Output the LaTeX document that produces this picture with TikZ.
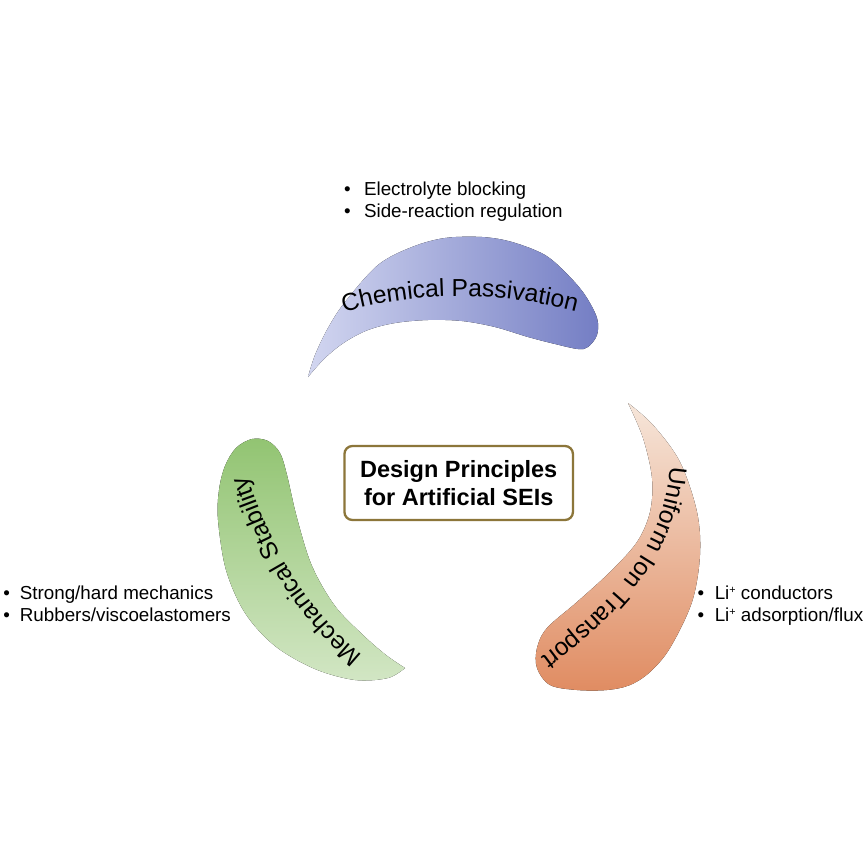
\documentclass[tikz,border=0pt]{standalone}
\usepackage{fontspec}
\setmainfont{Liberation Sans}
\usetikzlibrary{decorations.text}
\definecolor{blueL}{RGB}{210,214,240}
\definecolor{blueR}{RGB}{116,126,196}
\definecolor{orgT}{RGB}{246,230,218}
\definecolor{orgB}{RGB}{224,140,98}
\definecolor{grnT}{RGB}{146,196,114}
\definecolor{grnB}{RGB}{210,230,196}
\definecolor{boxc}{RGB}{140,118,58}
\newcommand\curvefont{\fontsize{6.15}{6.5}\selectfont}
\newcommand\liplus{Li\raisebox{1.5pt}{\fontsize{2.7}{2.7}\selectfont +}}
\tikzset{
  listline/.style={anchor=base west, inner sep=0pt, font=\fontsize{4.7}{5.5}\selectfont},
  curvetext/.style={decorate, decoration={text along path, text align=center, text={|\curvefont|#1}}},
  titlebox/.style={draw=boxc, line width=0.575pt, rounded corners=2pt, fill=white,
    minimum width=57.125pt, minimum height=18.5pt, inner sep=0pt, align=center,
    font=\fontsize{5.875}{6.825}\selectfont\bfseries}
}
\begin{document}
\begin{tikzpicture}[x=0.25pt,y=-0.25pt]
\useasboundingbox (0,0) rectangle (866,866);
\fill[white] (0,0) rectangle (866,866);

% blue crescent
\fill[left color=blueL, right color=blueR]
  plot[smooth, tension=0.55] coordinates {(308,377) (315,355) (328,328) (345,302) (378,265) (412,247) (445,238) (482,237) (512,242) (545,255) (568,275) (585,295) (597,318) (597,335) (588,347) (578,349) (555,344) (528,337) (495,327) (462,321) (428,320) (395,323) (368,330) (345,342) (325,358) (308,377)} -- cycle;

% orange crescent
\fill[top color=orgT, bottom color=orgB]
  plot[smooth, tension=0.55] coordinates {(628,403) (653,425) (680,462) (697,512) (700,555) (692,602) (670,648) (650,672) (630,685) (607,690) (577,690) (550,685) (537,668) (537,648) (547,628) (577,602) (610,572) (637,542) (650,512) (652,478) (643,438) (628,403)} -- cycle;

% green crescent
\fill[top color=grnT, bottom color=grnB]
  plot[smooth, tension=0.55] coordinates {(405,668) (388,678) (355,680) (315,669) (275,646) (245,613) (226,570) (218,520) (219,490) (225,466) (236,448) (252,439) (268,441) (280,453) (287,475) (297,518) (312,566) (335,606) (363,635) (386,655) (405,668)} -- cycle;

% curved labels
\path[curvetext={Chemical Passivation}]
  (338,314) .. controls (415,290.5) and (500,290.5) .. (582,313);
\path[curvetext={Uniform Ion Transport}]
  (671,458) .. controls (668,540) and (620,600) .. (534,662);
\path[curvetext={Mechanical Stability}]
  (374,664) .. controls (318,622) and (272,560) .. (243,462);

% title box
\node[titlebox] (title) at (458.7,483) {Design Principles\\for Artificial SEIs};

% bullet lists
\node[listline] (chem1) at (343.4,195.5) {\textbullet\hspace{3.325pt}Electrolyte blocking};
\node[listline] (chem2) at (343.4,218) {\textbullet\hspace{3.325pt}Side-reaction regulation};
\node[listline] (ion1) at (696.7,599) {\textbullet\hspace{2.675pt}\liplus{} conductors};
\node[listline] (ion2) at (696.7,621) {\textbullet\hspace{2.675pt}\liplus{} adsorption/flux};
\node[listline] (mech1) at (2.5,599.5) {\textbullet\hspace{2.5pt}Strong/hard mechanics};
\node[listline] (mech2) at (2.5,621.5) {\textbullet\hspace{2.5pt}Rubbers/viscoelastomers};
\end{tikzpicture}
\end{document}
